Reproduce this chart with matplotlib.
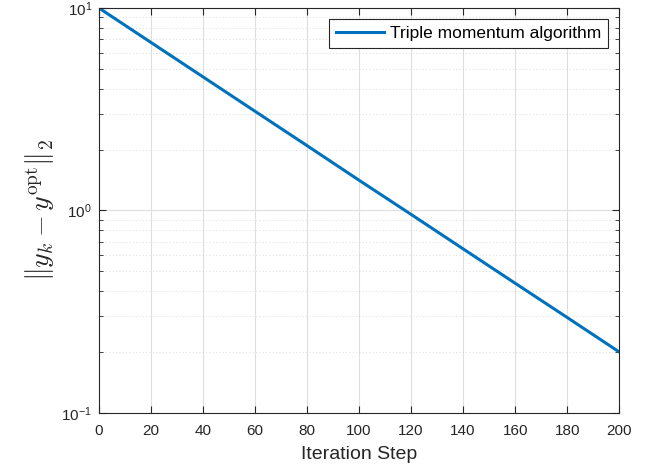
import numpy as np
import matplotlib
matplotlib.use('Agg')
import matplotlib.pyplot as plt
from matplotlib.ticker import LogLocator, NullFormatter

plt.rcParams['font.family'] = ['Liberation Sans', 'DejaVu Sans']
plt.rcParams['mathtext.fontset'] = 'cm'

# values at every 20 steps
steps = [0, 20, 40, 60, 80, 100, 120, 140, 160, 180, 200]
err = [10.0, 6.76, 4.57, 3.09, 2.09, 1.41, 0.956, 0.646, 0.437, 0.296, 0.2]

fig = plt.figure(figsize=(6.47, 4.74), dpi=100)
ax = fig.add_axes([0.153, 0.129, 0.804, 0.854])

ax.semilogy(steps, err, color='#0072BD', linewidth=2.2, label='Triple momentum algorithm')
ax.set_xlim(0, 200)
ax.set_ylim(0.1, 10)
ax.set_xticks(range(0, 201, 20))
ax.yaxis.set_minor_locator(LogLocator(base=10, subs=np.arange(2, 10)))
ax.yaxis.set_minor_formatter(NullFormatter())

ax.grid(True, which='major', color='#dedede', linewidth=0.8)
ax.grid(True, which='minor', axis='y', color='#cfcfcf', linestyle=(0, (1, 3)), linewidth=0.6)
ax.tick_params(which='both', direction='in', top=True, right=True, labelsize=11, colors='#262626')
ax.tick_params(which='major', length=5)
ax.tick_params(which='minor', length=3)
ax.tick_params(axis='x', pad=8)
ax.tick_params(axis='y', pad=5)
for s in ax.spines.values():
    s.set_color('#262626')
    s.set_linewidth(0.8)

ax.set_xlabel('Iteration Step', fontsize=14, color='#262626', labelpad=6)
ax.set_ylabel(r'$\left\|y_k - y^{\mathrm{opt}}\right\|_2$', fontsize=20, color='#262626')

leg = ax.legend(loc='upper right', fontsize=12.5, fancybox=False, framealpha=1,
                edgecolor='#262626', borderaxespad=0.65, handlelength=2.8,
                borderpad=0.4, handletextpad=0.3)
leg.get_frame().set_linewidth(0.8)

fig.savefig('out.png', dpi=100)
